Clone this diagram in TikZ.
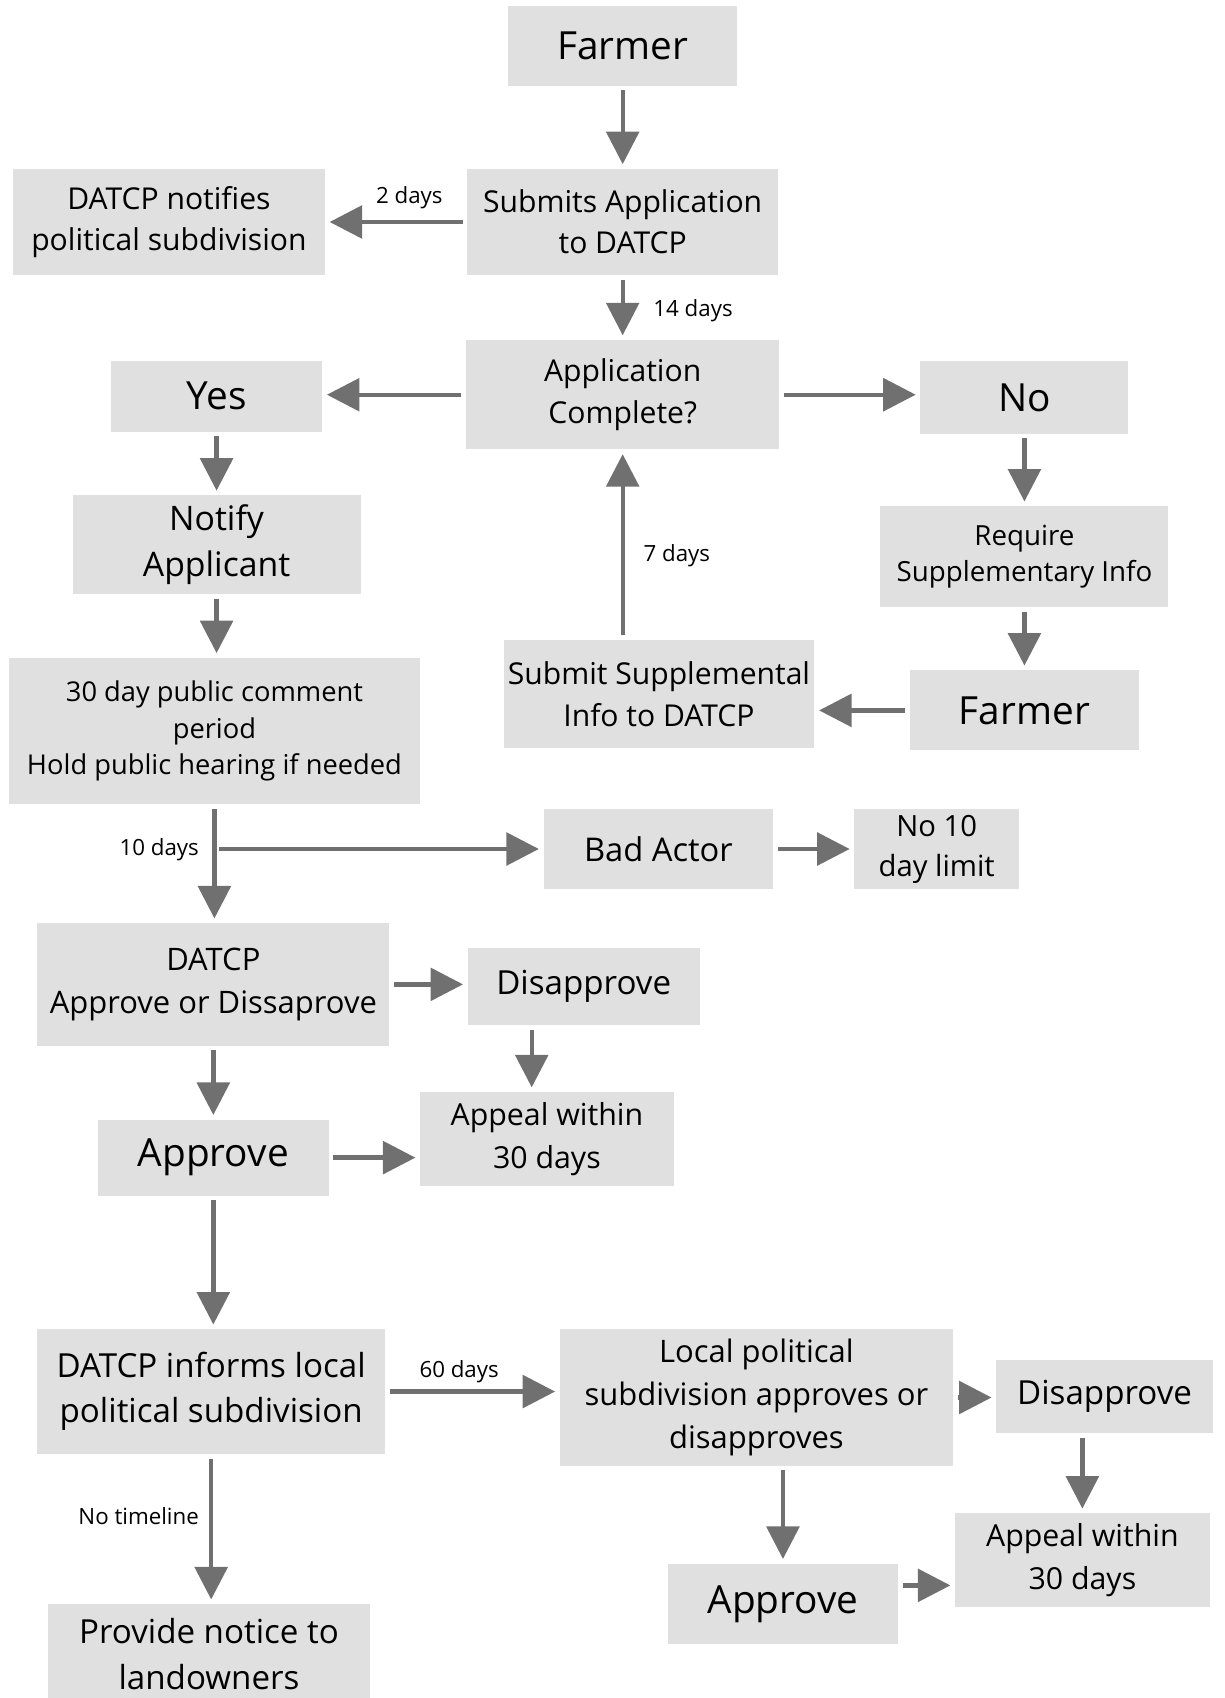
\documentclass[tikz,border=0pt]{standalone}
\usepackage{fontspec}
\setmainfont{Open Sans}
\usepackage{tikz}
\usetikzlibrary{arrows.meta,positioning}
\definecolor{boxgray}{HTML}{E0E0E0}
\definecolor{arrowgray}{HTML}{707070}
\tikzset{
  box/.style={fill=boxgray, inner sep=0pt, align=center},
  arr/.style={draw=arrowgray, line width=2pt, -{Triangle[length=15pt,width=15pt]}, shorten <=2pt, shorten >=2pt},
  lbl/.style={font=\fontsize{10.3}{12}\selectfont, inner sep=1pt},
  fbig/.style={font=\fontsize{17.9}{24}\selectfont},
  fmid/.style={font=\fontsize{15.3}{21}\selectfont},
  fsml/.style={font=\fontsize{13.9}{19}\selectfont},
  ftiny/.style={font=\fontsize{12.8}{17}\selectfont}
}

\begin{document}
\begin{tikzpicture}[x=0.5pt,y=-0.5pt]
\useasboundingbox (0,0) rectangle (1131,1568);
%top part
\node[box,fbig,minimum width=106pt,minimum height=36.5pt] (farmer) at (575,42.5) {Farmer};
\node[box,fsml,minimum width=143.5pt,minimum height=49pt] (submit) at (575,205) {Submits Application\\to DATCP};
\node[box,fsml,minimum width=144pt,minimum height=49pt] (notifyps) at (156,205) {DATCP notifies\\political subdivision};
\node[box,fsml,minimum width=144.5pt,minimum height=50.5pt] (complete) at (575,364.5) {Application\\Complete?};
\node[box,fbig,minimum width=97.5pt,minimum height=32.5pt] (yes) at (200,366) {Yes};
\node[box,fbig,minimum width=96pt,minimum height=33.5pt] (no) at (946,367) {No};
%loop back
\node[box,font=\fontsize{15.6}{21.5}\selectfont,minimum width=133pt,minimum height=45.5pt] (notifyapp) at (200,503) {Notify\\Applicant};
\node[box,ftiny,minimum width=133pt,minimum height=46.5pt] (require) at (946,514) {Require\\Supplementary Info};
\node[box,fbig,minimum width=106pt,minimum height=37pt] (farmerb) at (946,656) {Farmer};
\node[box,fsml,minimum width=143.5pt,minimum height=50pt] (supp) at (608.5,641) {Submit Supplemental\\Info to DATCP};
\node[box,font=\fontsize{12.6}{17}\selectfont,minimum width=190pt,minimum height=67.5pt] (comment) at (198,675) {30 day public comment\\period\\Hold public hearing if needed};
\node[box,font=\fontsize{15.1}{20}\selectfont,minimum width=106pt,minimum height=36.5pt] (bad) at (608,784) {Bad Actor};
\node[box,font=\fontsize{13.5}{18.5}\selectfont,minimum width=76pt,minimum height=36.5pt] (nolimit) at (865,784) {No 10\\day limit};
%DATCP decision
\node[box,font=\fontsize{14.3}{20}\selectfont,minimum width=162.5pt,minimum height=56.5pt] (decide) at (197,909) {DATCP\\Approve or Dissaprove};
\node[box,fmid,minimum width=107pt,minimum height=35.5pt] (disa) at (539,911) {Disapprove};
\node[box,font=\fontsize{14}{20}\selectfont,minimum width=117pt,minimum height=43.5pt] (appa) at (505,1052) {Appeal within\\30 days};
\node[box,fbig,minimum width=106.5pt,minimum height=35pt] (appra) at (197,1069) {Approve};
%local decision
\node[box,fmid,minimum width=160.5pt,minimum height=57.5pt] (inform) at (195,1285) {DATCP informs local\\political subdivision};
\node[box,font=\fontsize{14.3}{20}\selectfont,minimum width=181.5pt,minimum height=63pt] (local) at (698.5,1290.5) {Local political\\subdivision approves or\\disapproves};
\node[box,fmid,minimum width=100pt,minimum height=34pt] (disb) at (1020,1289.5) {Disapprove};
\node[box,font=\fontsize{14}{20}\selectfont,minimum width=117.5pt,minimum height=43pt] (appb) at (999.5,1440.5) {Appeal within\\30 days};
\node[box,fbig,minimum width=106pt,minimum height=37pt] (apprb) at (723,1481) {Approve};
\node[box,fmid,minimum width=149pt,minimum height=46pt,anchor=north] (provide) at (193,1481) {Provide notice to\\landowners};
%labels
\node[lbl] (d2) at (378,183) {2 days};
\node[lbl] (d14) at (640,287) {14 days};
\node[lbl] (d7) at (625,513) {7 days};
\node[lbl] (d10) at (147,785) {10 days};
\node[lbl] (d60) at (424,1267) {60 days};
\node[lbl] (dnone) at (128,1400) {No timeline};
%arrows
\draw[arr] (farmer.south) -- (submit.north);
\draw[arr] (submit.west) -- (submit.west -| notifyps.east);
\draw[arr] (submit.south) -- (complete.north);
\draw[arr] (complete.west) -- (complete.west -| yes.east);
\draw[arr] (complete.east) -- (complete.east -| no.west);
\draw[arr] (yes.south) -- (yes.south |- notifyapp.north);
\draw[arr] (no.south) -- (no.south |- require.north);
\draw[arr] (require.south) -- (require.south |- farmerb.north);
\draw[arr] (farmerb.west) -- (farmerb.west -| supp.east);
\draw[arr] (complete |- supp.north) -- (complete.south);
\draw[arr] (notifyapp.south) -- (notifyapp.south |- comment.north);
\draw[arr] (comment.south) -- (comment.south |- decide.north);
\draw[arr] (comment.south |- bad.west) -- (bad.west);
\draw[arr] (bad.east) -- (bad.east -| nolimit.west);
\draw[arr] (decide.east) -- (decide.east -| disa.west);
\draw[arr] ([xshift=-24pt]disa.south) -- ([xshift=-24pt]disa.south |- appa.north);
\draw[arr] (decide.south) -- (decide.south |- appra.north);
\draw[arr] (appra.east) -- (appra.east -| appa.west);
\draw[arr] (appra.south) -- (appra.south |- inform.north);
\draw[arr] (inform.east) -- (inform.east -| local.west);
\draw[arr] (local.east) -- (local.east -| disb.west);
\draw[arr] (appb |- disb.south) -- (appb.north);
\draw[arr] (apprb |- local.south) -- (apprb.north);
\draw[arr] ([yshift=8.5pt]apprb.east) -- ([yshift=8.5pt]apprb.east -| appb.west);
\draw[arr] (inform.south) -- (inform.south |- provide.north);
\end{tikzpicture}
\end{document}
